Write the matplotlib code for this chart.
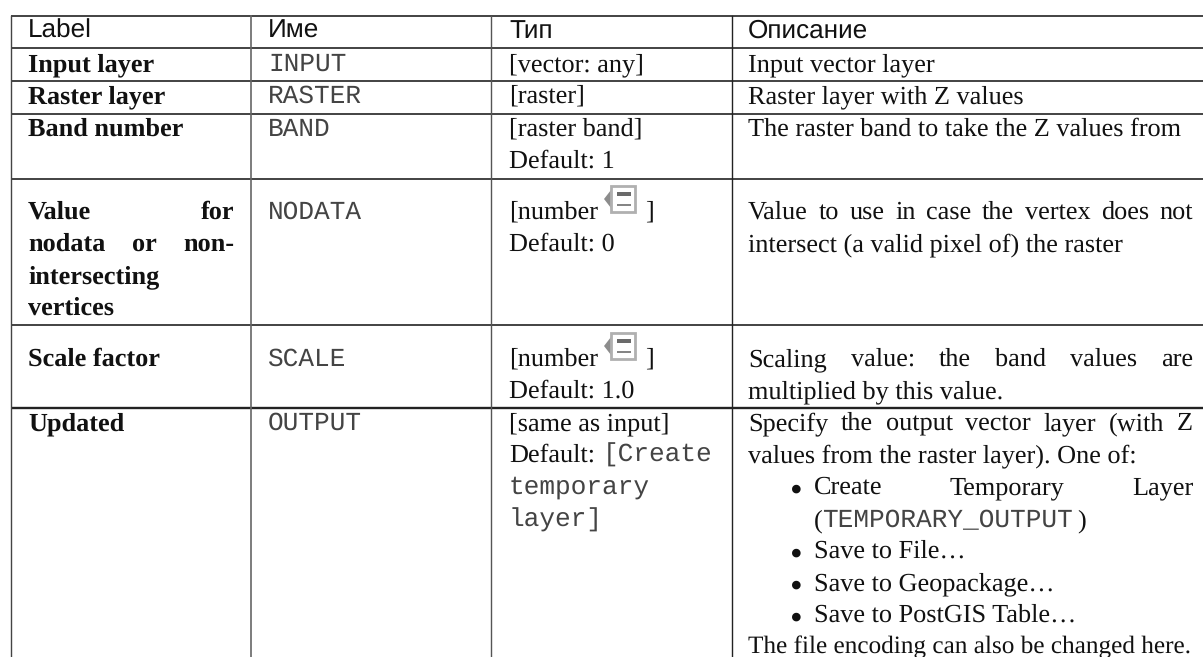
import matplotlib
matplotlib.use("Agg")
import matplotlib.pyplot as plt
from matplotlib.patches import Polygon, Rectangle

plt.rcParams["text.hinting"] = "no_hinting"

#table contents
header = ["Label", "Име", "Тип", "Описание"]
labels = ["Input layer", "Raster layer", "Band number", "Scale factor", "Updated"]
label_value = ["Value for", "nodata or non-"]
label_value_rest = ["intersecting", "vertices"]
names = ["INPUT", "RASTER", "BAND", "NODATA", "SCALE", "OUTPUT"]
types = ["[vector: any]", "[raster]", "[raster band]", "Default: 1", "[number", "Default: 0",
         "[number", "Default: 1.0", "[same as input]"]
desc_plain = ["Input vector layer", "Raster layer with Z values",
              "The raster band to take the Z values from",
              "intersect (a valid pixel of) the raster", "multiplied by this value.",
              "values from the raster layer). One of:"]
desc_just = ["Value to use in case the vertex does not",
             "Scaling value: the band values are",
             "Specify the output vector layer (with Z"]
bullets = ["Create Temporary Layer", "Save to File…", "Save to Geopackage…", "Save to PostGIS Table…"]
last_line = "The file encoding can also be changed here."

#pixel layout
W, H = 1203, 657
col_x = [10.5, 251, 491, 732]
text_x = [28, 268, 509, 748]
row_y = [15.5, 48, 81, 114, 179, 325, 408]
FS = 18.9
MONO_FS = 18.8
SERIF = "Liberation Serif"
MONO = "Liberation Mono"
SANS = "Liberation Sans"
MONO_COLOR = "#444444"

fig = plt.figure(figsize=(W / 100, H / 100), dpi=100)
ax = fig.add_axes([0, 0, 1, 1])
ax.set_xlim(0, W)
ax.set_ylim(H, 0)
ax.axis("off")

def put(x, y, s, family=SERIF, weight="normal", color="#111111", size=FS):
    return ax.text(x, y, s, family=family, weight=weight, color=color, fontsize=size,
                   va="baseline", ha="left", clip_on=True)

def width(s, family=SERIF, weight="normal", size=FS):
    t = put(0, 0, s, family=family, weight=weight, size=size)
    r = fig.canvas.get_renderer()
    w = t.get_window_extent(r).width
    t.remove()
    return w

#stretches the gaps so the words fill x0..x1
def justified(x0, x1, y, s, weight="normal"):
    words = s.split()
    ws = [width(w, weight=weight) for w in words]
    gap = (x1 - x0 - sum(ws)) / (len(words) - 1)
    x = x0
    for w, wd in zip(words, ws):
        put(x, y, w, weight=weight)
        x += wd + gap

def mono(x, y, s):
    put(x, y, s, family=MONO, color=MONO_COLOR, size=MONO_FS)

def bullet(y):
    put(789.5, y + 7, "•", size=26)

def icon(x, y):
    ax.add_patch(Polygon([[x + 7, y + 5], [x, y + 14], [x + 7, y + 23]], fc="#8c8c8c", ec="none"))
    ax.add_patch(Rectangle((x + 7, y + 1), 24, 26, fc="white", ec="#b0b0b0", lw=2.0))
    ax.add_patch(Rectangle((x + 13, y + 7), 14, 3.5, fc="#6a6a6a", ec="none"))
    ax.add_patch(Rectangle((x + 13, y + 19), 14, 2, fc="#858585", ec="none"))

#grid
for y in row_y:
    lw = 1.7 if y == row_y[-1] else 1.2
    ax.plot([col_x[0], W], [y, y], color="#222222", lw=lw, solid_capstyle="butt")
ax.plot([col_x[0]] * 2, [row_y[0], H], color="#444444", lw=1.0)
ax.plot([col_x[1]] * 2, [row_y[0], H], color="#666666", lw=1.2)
ax.plot([col_x[2]] * 2, [row_y[0], H], color="#555555", lw=1.0)
ax.plot([col_x[3]] * 2, [row_y[0], H], color="#222222", lw=1.0)

#header
for x, s in zip(text_x, header):
    put(x, 38, s, family=SANS, size=18.8)

#first column
for y, s in zip([71, 103, 136, 366, 430], labels):
    put(text_x[0], y, s, weight="bold")
justified(text_x[0], 234, 219, label_value[0], weight="bold")
justified(text_x[0], 234, 251, label_value[1], weight="bold")
for y, s in zip([283, 315], label_value_rest):
    put(text_x[0], y, s, weight="bold")

#second column
for y, s in zip([71, 103, 136, 219, 366, 430], names):
    mono(text_x[1], y, s)

#third column
for y, s in zip([71, 103, 136, 168, 219, 251, 366, 398, 430], types):
    put(text_x[2], y, s)
put(text_x[2], 462, "Default:")
mono(603, 462, "[Create")
mono(text_x[2], 494, "temporary")
mono(text_x[2], 527, "layer]")
for top, base in zip([185, 332], [219, 366]):
    icon(604, top)
    put(645, base, "]")

#fourth column
for y, s in zip([71, 103, 136, 251, 398, 462], desc_plain):
    put(text_x[3], y, s)
for y, s in zip([219, 366, 430], desc_just):
    justified(text_x[3], 1193, y, s)
justified(814, 1193, 494, bullets[0])
bullet(494)
put(814, 527, "(")
mono(822, 527, "TEMPORARY_OUTPUT")
put(1077, 527, ")")
for y, s in zip([558, 590, 622], bullets[1:]):
    bullet(y)
    put(814, y, s)
#this line is set tighter than the rest so it still fits the cell
put(text_x[3], 654, last_line, size=FS * 444 / width(last_line))

fig.savefig("out.png", dpi=100)
